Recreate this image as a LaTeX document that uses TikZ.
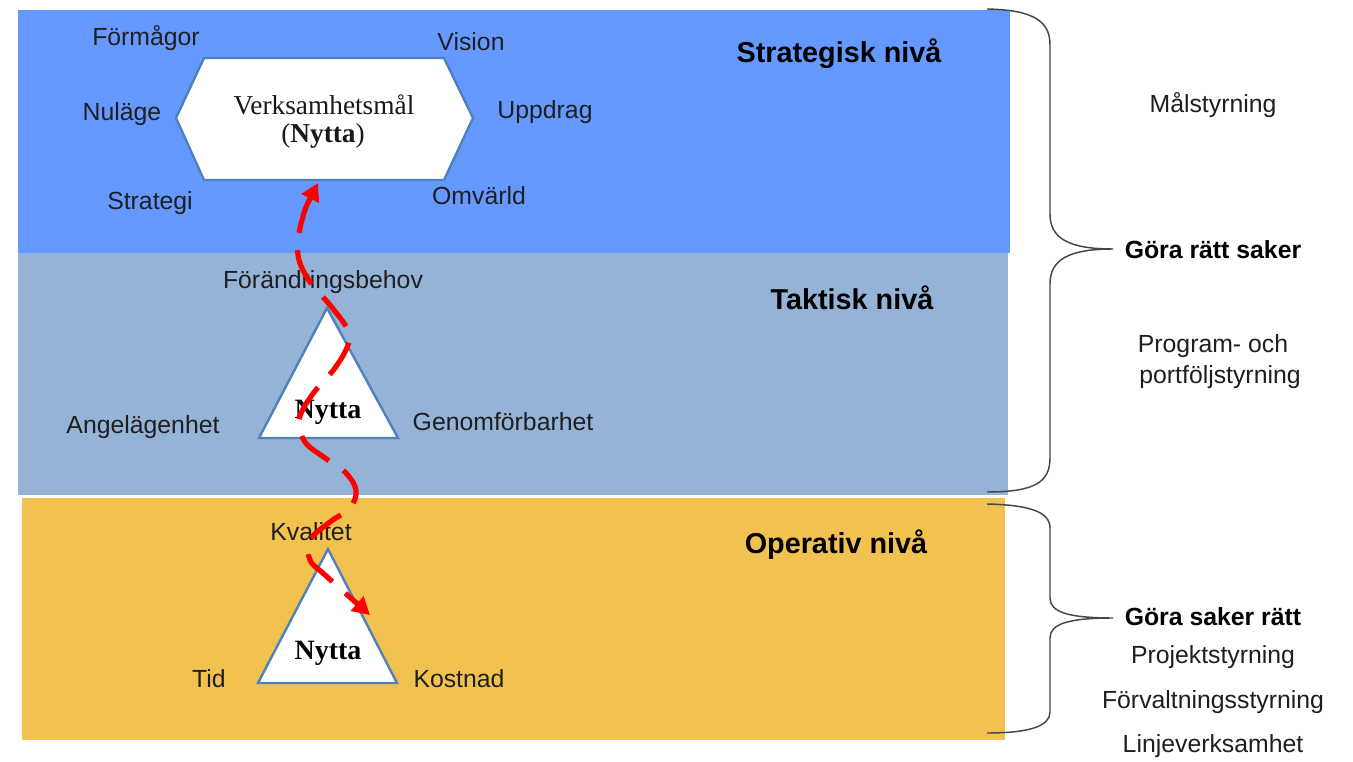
\documentclass[tikz,border=0pt]{standalone}
\usepackage{fontspec}
\setmainfont{Liberation Sans}
\newfontfamily\seriffont{Liberation Serif}
\usetikzlibrary{arrows.meta}
\definecolor{bandblue}{RGB}{102,153,255}
\definecolor{bandgray}{RGB}{149,179,215}
\definecolor{bandorange}{RGB}{242,194,80}
\definecolor{shapeedge}{RGB}{79,129,189}
\definecolor{bracecol}{RGB}{70,70,70}
\tikzset{
  lbl/.style={font=\fontsize{18.6}{22}\selectfont, text=black!88, inner sep=0pt},
  lblb/.style={font=\bfseries\fontsize{18.6}{22}\selectfont, text=black, inner sep=0pt},
  title/.style={font=\bfseries\fontsize{21.6}{26}\selectfont, text=black, inner sep=0pt},
  sertext/.style={font=\seriffont\fontsize{20.5}{24}\selectfont, text=black!90, inner sep=0pt, align=center},
  serbold/.style={font=\seriffont\bfseries\fontsize{21}{24}\selectfont, text=black, inner sep=0pt},
  shapebox/.style={draw=shapeedge, fill=white, line width=1.8pt, line join=miter},
  bracestyle/.style={draw=bracecol, line width=1.1pt},
  redflow/.style={draw=red, line width=3.9pt, dash pattern=on 28pt off 13pt,
    {Triangle[length=13pt,width=14pt]}-{Triangle[length=13pt,width=14pt]}}
}
\begin{document}
\begin{tikzpicture}[x=0.75pt,y=-0.75pt]
\useasboundingbox (0,0) rectangle (1353,762);
\fill[white] (0,0) rectangle (1353,762);
% bands
\fill[bandblue] (18,10) rectangle (1010,253);
\fill[bandgray] (18,253) rectangle (1008,495);
\fill[bandorange] (22,498) rectangle (1005,740);
% titles
\node[title] (strat) at (839,54) {Strategisk nivå};
\node[title] (takt) at (852,298) {Taktisk nivå};
\node[title] (oper) at (836,545) {Operativ nivå};
% hexagon
\coordinate (h1) at (176,118);
\coordinate (h2) at (204,58);
\coordinate (h3) at (444,58);
\coordinate (h4) at (473,118);
\coordinate (h5) at (444,180);
\coordinate (h6) at (204,180);
\path[shapebox] (h1) -- (h2) -- (h3) -- (h4) -- (h5) -- (h6) -- cycle;
\node[sertext] (vm) at (324,105) {Verksamhetsmål};
\node[sertext] (vmn) at (323,136) {(\textbf{Nytta})};
% tactical triangle
\coordinate (t1) at (327,308);
\coordinate (t2) at (259,438);
\coordinate (t3) at (398,438);
\path[shapebox] (t1) -- (t2) -- (t3) -- cycle;
\node[serbold] (tn) at (328,412) {Nytta};
% operative triangle
\coordinate (o1) at (328,549);
\coordinate (o2) at (258,683);
\coordinate (o3) at (397,683);
\path[shapebox] (o1) -- (o2) -- (o3) -- cycle;
\node[serbold] (on) at (328,653) {Nytta};
% labels strategic
\node[lbl] (formagor) at (146,38) {Förmågor};
\node[lbl] (vision) at (471,42) {Vision};
\node[lbl] (nulage) at (122,114) {Nuläge};
\node[lbl] (uppdrag) at (545,112) {Uppdrag};
\node[lbl] (strategi) at (150,203) {Strategi};
\node[lbl] (omvarld) at (479,196) {Omvärld};
% labels tactical
\node[lbl] (forandr) at (323,282) {Förändringsbehov};
\node[lbl] (angel) at (143,427) {Angelägenhet};
\node[lbl] (genomf) at (503,422) {Genomförbarhet};
% labels operative
\node[lbl] (kval) at (311,532) {Kvalitet};
\node[lbl] (tid) at (209,679) {Tid};
\node[lbl] (kostn) at (459,679) {Kostnad};
% red flow
\draw[redflow] plot[smooth, tension=0.6] coordinates {(318,183) (302,220) (298,255) (310,282) (330,305) (348,330) (348,345) (335,368) (312,395) (299,420) (305,442) (325,458) (345,472) (356,490) (350,508) (330,522) (310,540) (310,560) (325,575) (370,615)};
% braces
\path[bracestyle] (987,9) .. controls (1035,10) and (1050,22) .. (1050,45)
  -- (1050,214) .. controls (1050,238) and (1068,249) .. (1113,249)
  .. controls (1068,249) and (1050,260) .. (1050,284)
  -- (1050,458) .. controls (1050,482) and (1035,492) .. (987,492);
\path[bracestyle] (987,504) .. controls (1030,505) and (1050,512) .. (1050,528)
  -- (1050,598) .. controls (1050,612) and (1068,618) .. (1113,618)
  .. controls (1068,618) and (1050,624) .. (1050,638)
  -- (1050,712) .. controls (1050,726) and (1030,733) .. (987,733);
% right texts
\node[lbl] (malst) at (1213,105) {Målstyrning};
\node[lblb] (gorarsaker) at (1213,250) {Göra rätt saker};
\node[lbl] (prog) at (1213,346) {Program- och};
\node[lbl] (portf) at (1220,377) {portföljstyrning};
\node[lblb] (gorasr) at (1213,617) {Göra saker rätt};
\node[lbl] (projs) at (1213,657) {Projektstyrning};
\node[lbl] (forvs) at (1213,702) {Förvaltningsstyrning};
\node[lbl] (linje) at (1213,746) {Linjeverksamhet};
\end{tikzpicture}
\end{document}
